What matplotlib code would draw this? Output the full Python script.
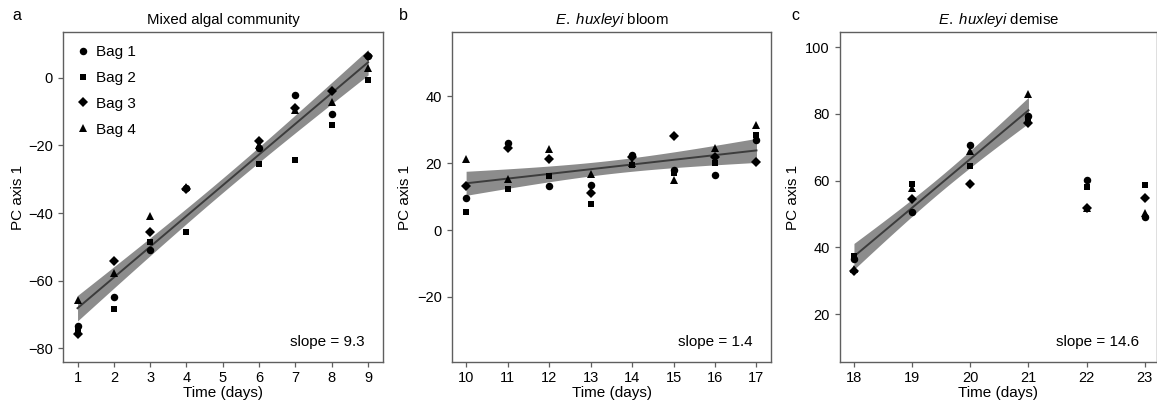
import numpy as np
import matplotlib
matplotlib.use("Agg")
import matplotlib.pyplot as plt

plt.rcParams['font.family'] = ['Liberation Sans', 'DejaVu Sans']
plt.rcParams['mathtext.fontset'] = 'custom'
plt.rcParams['mathtext.rm'] = 'Liberation Sans'
plt.rcParams['mathtext.it'] = 'Liberation Sans:italic'

# ---------------- data ----------------
days_a = [1, 2, 3, 4, 6, 7, 8, 9]
bag1_a = [-73.5, -65.0, -51.0, -32.5, -20.8, -5.0, -10.8, 6.6]
bag2_a = [-74.5, -68.3, -48.7, -45.5, -25.4, -24.3, -13.9, -0.5]
bag3_a = [-75.7, -54.2, -45.5, -32.9, -18.8, -8.9, -3.8, 6.6]
bag4_a = [-65.8, -57.7, -40.9, -32.2, -19.8, -9.6, -7.2, 3.0]

days_b = [10, 11, 12, 13, 14, 15, 16, 17]
bag1_b = [9.6, 26.2, 13.3, 13.5, 22.4, 18.0, 16.6, 27.0]
bag2_b = [5.5, 12.4, 16.2, 7.9, 19.5, 17.0, 20.2, 28.4]
bag3_b = [13.3, 24.5, 21.2, 11.2, 21.9, 28.2, 21.9, 20.5]
bag4_b = [21.4, 15.4, 24.2, 16.7, 20.2, 14.9, 24.7, 31.6]

days_c = [18, 19, 20, 21, 22, 23]
bag1_c = [36.5, 50.7, 70.8, 79.3, 60.2, 49.2]
bag2_c = [37.5, 59.1, 64.3, 78.6, 58.2, 58.7]
bag3_c = [32.8, 54.6, 59.1, 77.3, 51.7, 54.7]
bag4_c = [33.5, 57.9, 68.9, 86.0, 51.9, 50.4]
fit_days_c = 4  # regression uses the first four days only (18-21)

titles = ["Mixed algal community", r"$\it{E.\ huxleyi}$ bloom", r"$\it{E.\ huxleyi}$ demise"]
slope_labels = ["slope = 9.3", "slope = 1.4", "slope = 14.6"]
panel_letters = ["a", "b", "c"]
bag_labels = ["Bag 1", "Bag 2", "Bag 3", "Bag 4"]
t_crit = [2.042, 2.042, 2.145]

yticks_a = [-80, -60, -40, -20, 0]
yticks_b = [-20, 0, 20, 40]
yticks_c = [20, 40, 60, 80, 100]

# ---------------- style ----------------
W, H = 1157, 409
fig = plt.figure(figsize=(W / 100, H / 100), dpi=100)

frame_col = "#5f5f5f"
band_col = "#8c8c8c"
line_col = "#3c3c3c"
markers = ["o", "s", "D", "^"]
msizes = [5.4, 4.8, 4.8, 6.0]

boxes = [(63, 383), (452, 771), (840, 1157)]
top_px, bot_px = 32, 362

def add_axes(x0, x1):
    return fig.add_axes([x0 / W, (H - bot_px) / H, (x1 - x0) / W, (bot_px - top_px) / H])

def draw_panel(ax, days, bags, nfit, tval):
    d = np.asarray(days, dtype=float)
    for vals, m, ms in zip(bags, markers, msizes):
        ax.plot(d, vals, linestyle="none", marker=m, markersize=ms, color="black",
                markeredgewidth=0, zorder=3)
    # regression on fitted days
    xs = np.concatenate([d[:nfit]] * 4)
    ys = np.concatenate([np.asarray(v[:nfit], dtype=float) for v in bags])
    b1, b0 = np.polyfit(xs, ys, 1)
    resid = ys - (b0 + b1 * xs)
    n = len(xs)
    s = np.sqrt(np.sum(resid ** 2) / (n - 2))
    xg = np.linspace(d[0], d[nfit - 1], 100)
    se = s * np.sqrt(1.0 / n + (xg - xs.mean()) ** 2 / np.sum((xs - xs.mean()) ** 2))
    yg = b0 + b1 * xg
    ax.fill_between(xg, yg - tval * se, yg + tval * se, color=band_col, linewidth=0, zorder=1)
    ax.plot(xg, yg, color=line_col, linewidth=1.4, zorder=2)

def style(ax):
    for sp in ax.spines.values():
        sp.set_color(frame_col)
        sp.set_linewidth(1.0)
    ax.tick_params(axis="both", direction="out", length=3.8, width=0.9, color=frame_col,
                   labelsize=10.5, labelcolor="black")
    ax.tick_params(axis="x", pad=3)
    ax.tick_params(axis="y", pad=3.5)

# panel a
axa = add_axes(*boxes[0])
draw_panel(axa, days_a, [bag1_a, bag2_a, bag3_a, bag4_a], len(days_a), t_crit[0])
axa.set_xlim(0.6, 9.41)
axa.set_ylim(-84.1, 13.6)
axa.set_xticks(range(1, 10))
axa.set_yticks(yticks_a)

# panel b
axb = add_axes(*boxes[1])
draw_panel(axb, days_b, [bag1_b, bag2_b, bag3_b, bag4_b], len(days_b), t_crit[1])
axb.set_xlim(9.66, 17.35)
axb.set_ylim(-39.5, 59.3)
axb.set_xticks(days_b)
axb.set_yticks(yticks_b)

# panel c
axc = add_axes(*boxes[2])
draw_panel(axc, days_c, [bag1_c, bag2_c, bag3_c, bag4_c], fit_days_c, t_crit[2])
axc.set_xlim(17.76, 23.21)
axc.set_ylim(5.7, 104.5)
axc.set_xticks(days_c)
axc.set_yticks(yticks_c)

ylabel_x = [18, 405, 793]
letter_x = [17, 403, 795]
for i, ax in enumerate([axa, axb, axc]):
    style(ax)
    x0, x1 = boxes[i]
    ax.set_title(titles[i], fontsize=10.8, pad=6)
    ax.set_xlabel("Time (days)", fontsize=11)
    ax.xaxis.set_label_coords(0.5, (bot_px - 386) / (bot_px - top_px))
    ax.xaxis.label.set_va("top")
    ax.set_ylabel("PC axis 1", fontsize=11)
    ax.yaxis.set_label_coords((ylabel_x[i] - x0) / (x1 - x0), 0.5)
    ax.yaxis.label.set_va("center")
    ax.text((x1 - 18 - x0) / (x1 - x0), (bot_px - 342) / (bot_px - top_px), slope_labels[i],
            transform=ax.transAxes, ha="right", va="center", fontsize=11)
    fig.text(letter_x[i] / W, (H - 16) / H, panel_letters[i], fontsize=11.5,
             ha="center", va="center")

# legend in panel a
handles = [plt.Line2D([], [], linestyle="none", marker=m, markersize=ms, color="black",
                      markeredgewidth=0) for m, ms in zip(markers, msizes)]
axa.legend(handles, bag_labels, loc="upper left", frameon=False, fontsize=11,
           bbox_to_anchor=(0.0, 1.0), borderaxespad=0.5, handlelength=0.9,
           handletextpad=0.4, labelspacing=0.78, borderpad=0.35)

fig.savefig("out.png", dpi=100)
